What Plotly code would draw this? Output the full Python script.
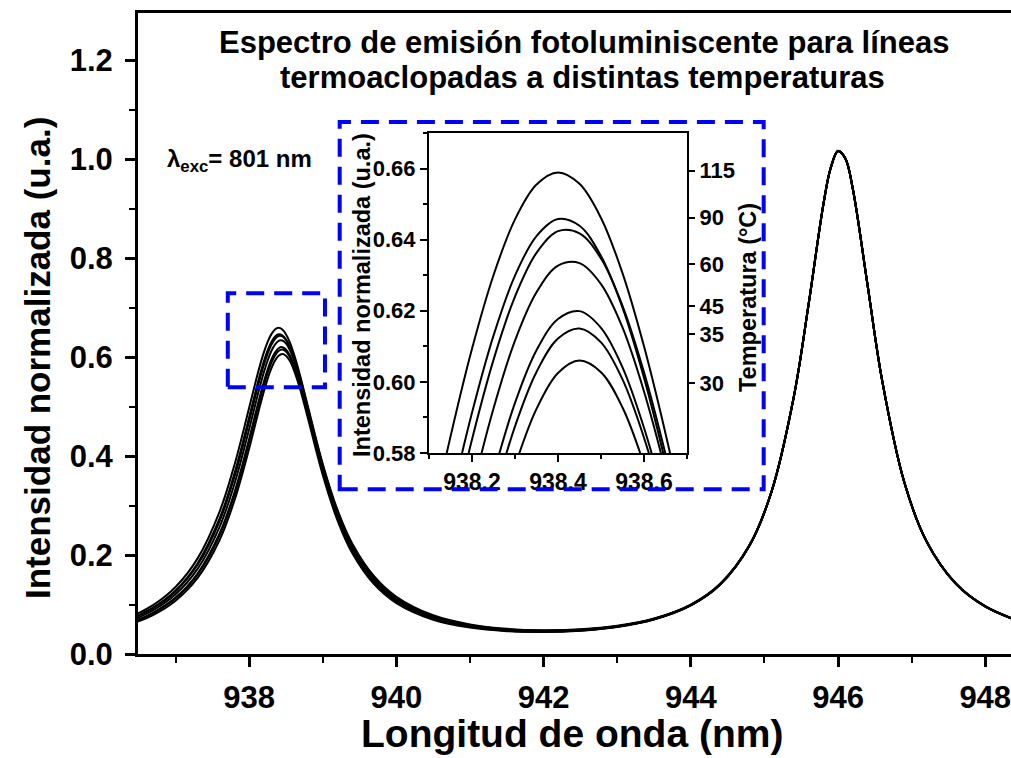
import plotly.graph_objects as go

# ---------------- data ----------------
wavelength = [936.4, 936.7, 937.0, 937.3, 937.6, 937.8, 938.0, 938.1, 938.15, 938.2,
              938.25, 938.3, 938.35, 938.4, 938.45, 938.5, 938.55, 938.6, 938.65, 938.7,
              938.8, 939.0, 939.2, 939.4, 939.7, 940.0, 940.5, 941.0, 941.5, 942.0,
              942.5, 943.0, 943.5, 944.0, 944.4, 944.8, 945.1, 945.4, 945.6, 945.8,
              945.9, 946.0, 946.1, 946.2, 946.4, 946.6, 946.9, 947.2, 947.6, 948.0, 948.5]

curve_1 = [0.0755, 0.0991, 0.1353, 0.1932, 0.2883, 0.3818, 0.4977, 0.5572, 0.5846, 0.6093,
           0.6300, 0.6457, 0.6555, 0.6589, 0.6557, 0.6461, 0.6306, 0.6100, 0.5855, 0.5582,
           0.4992, 0.3840, 0.2913, 0.2235, 0.1566, 0.1157, 0.0782, 0.0598, 0.0509, 0.0481,
           0.0499, 0.0570, 0.0716, 0.0997, 0.1418, 0.2208, 0.3301, 0.5206, 0.7067, 0.9078,
           0.9822, 1.0165, 1.0014, 0.9409, 0.7471, 0.5526, 0.3475, 0.2286, 0.1426, 0.0965, 0.0644]
curve_2 = [0.0717, 0.0941, 0.1284, 0.1834, 0.2743, 0.3646, 0.4785, 0.5381, 0.5660, 0.5913,
           0.6130, 0.6299, 0.6410, 0.6458, 0.6439, 0.6354, 0.6209, 0.6012, 0.5773, 0.5505,
           0.4920, 0.3772, 0.2851, 0.2180, 0.1522, 0.1123, 0.0758, 0.0580, 0.0496, 0.0471,
           0.0491, 0.0563, 0.0710, 0.0993, 0.1414, 0.2205, 0.3298, 0.5203, 0.7064, 0.9075,
           0.9820, 1.0163, 1.0012, 0.9407, 0.7469, 0.5524, 0.3473, 0.2284, 0.1424, 0.0963, 0.0642]
curve_3 = [0.0708, 0.0928, 0.1264, 0.1803, 0.2692, 0.3578, 0.4703, 0.5298, 0.5579, 0.5838,
           0.6062, 0.6240, 0.6363, 0.6424, 0.6418, 0.6347, 0.6214, 0.6027, 0.5797, 0.5535,
           0.4957, 0.3808, 0.2878, 0.2199, 0.1532, 0.1129, 0.0761, 0.0582, 0.0497, 0.0471,
           0.0491, 0.0563, 0.0710, 0.0993, 0.1414, 0.2205, 0.3298, 0.5203, 0.7064, 0.9075,
           0.9820, 1.0163, 1.0012, 0.9407, 0.7469, 0.5524, 0.3473, 0.2284, 0.1424, 0.0963, 0.0642]
curve_4 = [0.0676, 0.0885, 0.1205, 0.1720, 0.2574, 0.3433, 0.4541, 0.5139, 0.5425, 0.5691,
           0.5925, 0.6116, 0.6252, 0.6327, 0.6334, 0.6275, 0.6153, 0.5973, 0.5749, 0.5490,
           0.4915, 0.3763, 0.2833, 0.2157, 0.1497, 0.1100, 0.0741, 0.0567, 0.0486, 0.0463,
           0.0484, 0.0558, 0.0706, 0.0989, 0.1410, 0.2202, 0.3295, 0.5200, 0.7062, 0.9073,
           0.9818, 1.0161, 1.0010, 0.9405, 0.7467, 0.5522, 0.3471, 0.2282, 0.1422, 0.0961, 0.0641]
curve_5 = [0.0640, 0.0838, 0.1140, 0.1627, 0.2440, 0.3264, 0.4345, 0.4939, 0.5227, 0.5498,
           0.5740, 0.5941, 0.6089, 0.6177, 0.6199, 0.6152, 0.6041, 0.5871, 0.5655, 0.5402,
           0.4834, 0.3690, 0.2767, 0.2099, 0.1451, 0.1065, 0.0716, 0.0550, 0.0473, 0.0453,
           0.0477, 0.0552, 0.0701, 0.0985, 0.1407, 0.2198, 0.3292, 0.5197, 0.7059, 0.9070,
           0.9815, 1.0159, 1.0008, 0.9403, 0.7465, 0.5520, 0.3469, 0.2281, 0.1421, 0.0960, 0.0640]
curve_6 = [0.0632, 0.0827, 0.1125, 0.1604, 0.2403, 0.3215, 0.4281, 0.4870, 0.5157, 0.5428,
           0.5671, 0.5875, 0.6028, 0.6122, 0.6150, 0.6111, 0.6007, 0.5843, 0.5633, 0.5385,
           0.4824, 0.3687, 0.2765, 0.2097, 0.1449, 0.1062, 0.0714, 0.0548, 0.0472, 0.0452,
           0.0476, 0.0551, 0.0700, 0.0984, 0.1406, 0.2198, 0.3292, 0.5197, 0.7059, 0.9070,
           0.9815, 1.0158, 1.0007, 0.9402, 0.7464, 0.5519, 0.3469, 0.2280, 0.1420, 0.0960, 0.0640]
curve_7 = [0.0606, 0.0792, 0.1077, 0.1537, 0.2309, 0.3100, 0.4151, 0.4739, 0.5028, 0.5303,
           0.5552, 0.5763, 0.5924, 0.6025, 0.6060, 0.6027, 0.5928, 0.5768, 0.5559, 0.5312,
           0.4752, 0.3616, 0.2700, 0.2041, 0.1406, 0.1029, 0.0693, 0.0533, 0.0461, 0.0443,
           0.0469, 0.0545, 0.0696, 0.0981, 0.1403, 0.2195, 0.3289, 0.5195, 0.7057, 0.9068,
           0.9813, 1.0156, 1.0005, 0.9400, 0.7463, 0.5518, 0.3468, 0.2279, 0.1419, 0.0959, 0.0639]

curves = [curve_1, curve_2, curve_3, curve_4, curve_5, curve_6, curve_7]

# right-hand temperature scale of the inset
temperature_labels = ["115", "90", "60", "45", "35", "30"]
temperature_positions = [0.6594, 0.6462, 0.6331, 0.6214, 0.6135, 0.5996]

# ---------------- layout helpers ----------------
W, H = 1011, 758
L, R, T, B = 138, 1011, 13, 654          # plot area in pixels


def px(xp):
    return (xp - L) / (R - L)


def py(yp):
    return (B - yp) / (B - T)


FONT = "Liberation Sans, Arial, sans-serif"
BLUE = "#0000ff"

fig = go.Figure()

for c in curves:
    fig.add_trace(go.Scatter(x=wavelength, y=c, mode="lines",
                             line=dict(color="black", width=2, shape="spline", smoothing=1.0),
                             xaxis="x", yaxis="y", hoverinfo="skip"))
for c in curves:
    fig.add_trace(go.Scatter(x=wavelength, y=c, mode="lines",
                             line=dict(color="black", width=2, shape="spline", smoothing=1.0),
                             xaxis="x2", yaxis="y2", hoverinfo="skip"))
# same inset curve bound to the temperature axis (invisible) so that axis is drawn
fig.add_trace(go.Scatter(x=wavelength, y=curve_1, mode="lines",
                         line=dict(color="rgba(0,0,0,0)", width=0),
                         xaxis="x2", yaxis="y3", hoverinfo="skip"))

axis_common = dict(showgrid=False, zeroline=False, showline=True, linecolor="black",
                   ticks="outside", tickcolor="black")

fig.update_layout(
    width=W, height=H,
    margin=dict(l=L, r=W - R, t=T, b=H - B, pad=0),
    paper_bgcolor="white", plot_bgcolor="white",
    showlegend=False,
    font=dict(family=FONT, color="black"),
    xaxis=dict(axis_common, domain=[0, 1], range=[936.49, 948.35], anchor="y",
               tick0=938, dtick=2, ticklen=10, tickwidth=3, linewidth=3, mirror=True,
               ticklabelstandoff=4, ticklabeloverflow="allow",
               tickfont=dict(size=31, family=FONT, weight="bold"),
               minor=dict(dtick=1, tick0=937, ticks="outside", ticklen=6, tickwidth=2,
                          tickcolor="black", showgrid=False)),
    yaxis=dict(axis_common, domain=[0, 1], range=[0, 1.295], anchor="x",
               dtick=0.2, tick0=0, tickformat=".1f", ticklen=10, tickwidth=3, linewidth=3,
               ticklabelstandoff=6,
               tickfont=dict(size=31, family=FONT, weight="bold"),
               minor=dict(dtick=0.1, ticks="outside", ticklen=6, tickwidth=2,
                          tickcolor="black", showgrid=False)),
    xaxis2=dict(axis_common, domain=[px(429), px(687)], range=[938.1, 938.7], anchor="y2",
                tick0=938.2, dtick=0.2, tickformat=".1f", ticklen=7, tickwidth=2,
                linewidth=2, mirror=True,
                tickfont=dict(size=23, family=FONT, weight="bold"),
                minor=dict(dtick=0.1, tick0=938.1, ticks="outside", ticklen=4, tickwidth=2,
                           tickcolor="black", showgrid=False)),
    yaxis2=dict(axis_common, domain=[py(453), py(133)], range=[0.58, 0.67], anchor="x2",
                dtick=0.02, tick0=0.58, tickformat=".2f", ticklen=7, tickwidth=2,
                linewidth=2, mirror=True,
                tickfont=dict(size=22, family=FONT, weight="bold"),
                minor=dict(dtick=0.01, ticks="outside", ticklen=4, tickwidth=2,
                           tickcolor="black", showgrid=False)),
    yaxis3=dict(showgrid=False, zeroline=False, showline=False, overlaying="y2",
                anchor="x2", side="right", range=[0.58, 0.67],
                tickmode="array", tickvals=temperature_positions, ticktext=temperature_labels,
                ticks="outside", ticklen=7, tickwidth=2, tickcolor="black",
                tickfont=dict(size=22, family=FONT, weight="bold")),
)

dash = dict(color=BLUE, width=4, dash="18px,10px")
fig.add_shape(type="rect", xref="x", yref="y", x0=937.71, x1=939.03, y0=0.539, y1=0.729,
              line=dash, layer="above")
fig.add_shape(type="rect", xref="x", yref="y", x0=939.23, x1=944.99, y0=0.333, y1=1.075,
              line=dash, layer="above")


def note(text, xp, yp, size, angle=0, xanchor="center", yanchor="middle"):
    fig.add_annotation(text=text, x=px(xp), y=py(yp), xref="paper", yref="paper",
                       showarrow=False, textangle=angle, xanchor=xanchor, yanchor=yanchor,
                       font=dict(size=size, family=FONT, color="black", weight="bold"))


note("Espectro de emisión fotoluminiscente para líneas", 584, 42, 31)
note("termoaclopadas a distintas temperaturas", 582, 78, 31)
note("λ<sub>exc</sub>= 801 nm", 165, 160, 24, xanchor="left")
note("Longitud de onda (nm)", 572, 733, 39)
note("Intensidad normalizada (u.a.)", 37, 358, 35, angle=-90)
note("Intensidad normalizada (u.a.)", 362, 295, 23.5, angle=-90)
note("Temperatura (°C)", 748, 298, 23.5, angle=-90)

fig.write_html("out.html")
